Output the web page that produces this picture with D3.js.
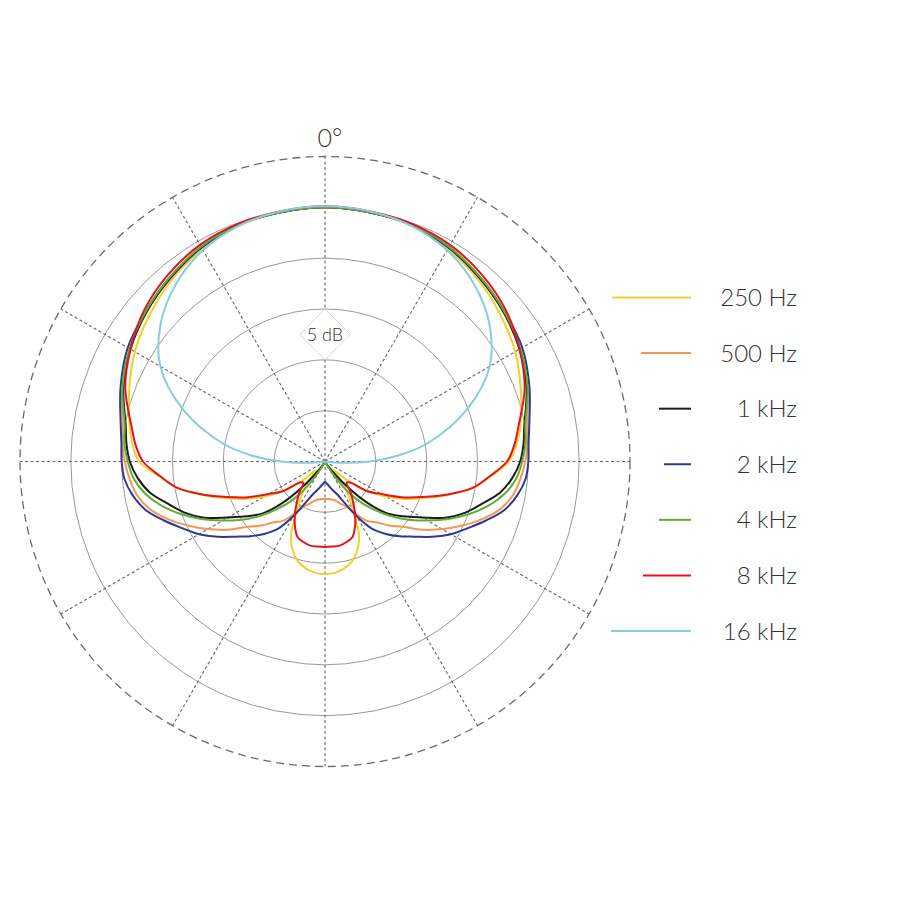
<!DOCTYPE html>
<html>
<head>
<meta charset="utf-8">
<script src="https://cdn.jsdelivr.net/npm/d3@7"></script>
<style>
  body { margin: 0; background: #fff; }
  text { font-family: Lato, "Open Sans", sans-serif; fill: #333; }
</style>
</head>
<body>
<svg id="polar" width="900" height="900"></svg>
<script>
// angle of each reading, degrees clockwise from 0° (on-axis)
const angles = [0, 10, 20, 30, 40, 50, 60, 70, 80, 85,
    90, 95, 100, 105, 110, 115, 120, 125, 130, 135, 140, 145, 150, 155, 160, 165, 170, 175, 180,
    185, 190, 195, 200, 205, 210, 215, 220, 225, 230, 235, 240, 245, 250, 255, 260, 265, 270,
    275, 280, 290, 300, 310, 320, 330, 340, 350];

// level in dB (0 dB = on-axis)
const hz250 = [0, -0.1, -0.3, -0.9, -1.6, -2.5, -3.4, -4.5, -5.5, -6.1,
    -6.9, -8.6, -10.2, -12.4, -14.5, -16.3, -18.1, -19.9, -21.9, -23.8, -22.6, -21.0, -19.6, -17.1, -15.7, -14.8, -14.3, -14.0, -13.9,
    -14.0, -14.3, -14.8, -15.7, -17.1, -19.6, -21.0, -22.6, -23.8, -21.9, -19.9, -18.1, -16.3, -14.5, -12.4, -10.2, -8.6, -6.7,
    -6.0, -5.5, -4.5, -3.4, -2.5, -1.6, -0.9, -0.3, -0.1];
const hz500 = [0, -0.1, -0.2, -0.7, -1.4, -2.1, -2.9, -3.8, -4.8, -5.0,
    -5.3, -5.7, -6.2, -7.1, -8.5, -10.1, -11.7, -13.3, -15.0, -16.1, -17.2, -17.9, -19.2, -20.1, -20.6, -21.0, -21.2, -21.3, -21.3,
    -21.3, -21.2, -21.0, -20.6, -20.1, -19.2, -17.9, -17.2, -16.1, -15.0, -13.3, -11.7, -10.1, -8.5, -7.1, -6.2, -5.7, -5.3,
    -5.0, -4.8, -3.8, -2.9, -2.1, -1.4, -0.7, -0.2, -0.1];
const khz1 = [0, -0.1, -0.2, -0.7, -1.4, -2.1, -2.9, -3.9, -5.1, -5.4,
    -5.8, -6.5, -7.5, -9.0, -10.3, -11.9, -14.0, -15.6, -17.1, -19.6, -22.5, -24.2, -24.8, -25, -25, -25, -25, -25, -25,
    -25, -25, -25, -25, -25, -24.8, -24.2, -22.5, -19.6, -17.1, -15.6, -14.0, -11.9, -10.3, -9.0, -7.5, -6.5, -5.8,
    -5.4, -5.1, -3.9, -2.9, -2.1, -1.4, -0.7, -0.2, -0.1];
const khz2 = [0, -0.1, -0.2, -0.7, -1.3, -2.0, -2.6, -3.6, -4.6, -4.9,
    -5.0, -5.2, -5.8, -6.7, -8.1, -9.5, -10.7, -12.1, -13.5, -14.6, -15.7, -16.9, -18.8, -20.6, -21.6, -22.1, -22.5, -22.8, -23.0,
    -22.8, -22.5, -22.1, -21.6, -20.6, -18.8, -16.9, -15.7, -14.6, -13.5, -12.1, -10.7, -9.5, -8.1, -6.7, -5.8, -5.2, -5.0,
    -4.9, -4.6, -3.6, -2.6, -2.0, -1.3, -0.7, -0.2, -0.1];
const khz4 = [0, -0.1, -0.2, -0.6, -1.3, -2.0, -2.8, -3.8, -5.0, -5.2,
    -5.6, -6.1, -7.0, -8.3, -9.9, -11.6, -13.4, -15.0, -16.7, -18.4, -20.1, -22.2, -24.2, -24.8, -25, -25, -25, -25, -25,
    -25, -25, -25, -25, -24.8, -24.2, -22.2, -20.1, -18.4, -16.7, -15.0, -13.4, -11.6, -9.9, -8.3, -7.0, -6.1, -5.6,
    -5.2, -5.0, -3.8, -2.8, -2.0, -1.3, -0.6, -0.2, -0.1];
const khz8 = [0.1, 0, -0.1, -0.4, -1.0, -1.8, -2.9, -4.1, -5.7, -6.3,
    -7.1, -8.7, -10.2, -12.5, -14.8, -16.7, -18.6, -19.9, -21.8, -22.0, -21.1, -20.2, -19.1, -18.0, -17.1, -16.8, -16.6, -16.6, -16.6,
    -16.6, -16.6, -16.8, -17.1, -18.0, -19.1, -20.2, -21.1, -22.0, -21.8, -19.9, -18.6, -16.7, -14.8, -12.5, -10.2, -8.7, -7.1,
    -6.3, -5.7, -4.1, -2.9, -1.8, -1.0, -0.4, -0.1, 0];
const khz16 = [0.1, 0, -0.3, -1.0, -2.2, -3.9, -6.3, -10.2, -14.8, -17.6,
    -20.6, -23.5, -24.7, -25, -25, -25, -25, -25, -25, -25, -25, -25, -25, -25, -25, -25, -25, -25, -25,
    -25, -25, -25, -25, -25, -25, -25, -25, -25, -25, -25, -25, -25, -25, -25, -24.7, -23.5, -20.6,
    -17.6, -14.8, -10.2, -6.3, -3.9, -2.2, -1.0, -0.3, 0];

const seriesNames = ["250 Hz", "500 Hz", "1 kHz", "2 kHz", "4 kHz", "8 kHz", "16 kHz"];
const seriesValues = [hz250, hz500, khz1, khz2, khz4, khz8, khz16];
const seriesColors = ["#f4cf2c", "#f29759", "#1c1c1c", "#2d3a8f", "#5fae34", "#e2151c", "#86cde3"];
const legendLineLengths = [79, 50, 32, 27, 32, 48, 80];

const ringLevels = [-20, -15, -10, -5, 0];
const outerLevel = 5;
const spokeAngles = d3.range(0, 360, 30);

const svg = d3.select("#polar");
const cx = 325, cy = 461.5;

const r = d3.scaleLinear()
    .domain([-25, outerLevel])
    .range([0, 305])
    .clamp(true);

const rad = d => d * Math.PI / 180;

const g = svg.append("g").attr("transform", `translate(${cx},${cy})`);

// solid rings
g.append("g")
    .selectAll("circle")
    .data(ringLevels)
    .join("circle")
    .attr("r", d => r(d))
    .attr("fill", "none")
    .attr("stroke", "#999")
    .attr("stroke-width", 1);

// dashed outer ring
g.append("circle")
    .attr("r", r(outerLevel))
    .attr("fill", "none")
    .attr("stroke", "#6a6a6a")
    .attr("stroke-width", 1.3)
    .attr("stroke-dasharray", "8,5");

// spokes
g.append("g")
    .selectAll("line")
    .data(spokeAngles)
    .join("line")
    .attr("x1", 0)
    .attr("y1", 0)
    .attr("x2", d => r(outerLevel) * Math.sin(rad(d)))
    .attr("y2", d => -r(outerLevel) * Math.cos(rad(d)))
    .attr("stroke", "#666")
    .attr("stroke-width", 1.1)
    .attr("stroke-dasharray", "3,2.5");

// "5 dB" marker between rings
const labelR = r(-12.5), half = (r(-10) - r(-15)) / 2;
const lab = g.append("g").attr("transform", `translate(0,${-labelR})`);
lab.append("path")
    .attr("d", `M0,${-half}L${half},0L0,${half}L${-half},0Z`)
    .attr("fill", "#fff")
    .attr("stroke", "#d8d8d8")
    .attr("stroke-width", 1);
lab.append("text")
    .attr("text-anchor", "middle")
    .attr("dy", "0.36em")
    .attr("font-size", 18)
    .attr("font-weight", 300)
    .text("5 dB");

// 0° label
g.append("text")
    .attr("x", 5)
    .attr("y", -r(outerLevel) - 10)
    .attr("text-anchor", "middle")
    .attr("font-size", 25)
    .attr("font-weight", 300)
    .text("0°");

// response curves
const line = d3.lineRadial()
    .angle(d => rad(d[0]))
    .radius(d => r(d[1]))
    .curve(d3.curveCatmullRomClosed.alpha(0.5));

g.append("g")
    .selectAll("path")
    .data(seriesValues)
    .join("path")
    .attr("d", vals => line(angles.map((a, i) => [a, vals[i]])))
    .attr("fill", "none")
    .attr("stroke", (d, i) => seriesColors[i])
    .attr("stroke-width", 2)
    .attr("stroke-linejoin", "round");

// legend
const ly = d3.scalePoint().domain(seriesNames).range([297.5, 631]);
const leg = svg.append("g")
    .selectAll("g")
    .data(seriesNames)
    .join("g")
    .attr("transform", d => `translate(0,${ly(d)})`);

leg.append("line")
    .attr("x1", (d, i) => 691 - legendLineLengths[i])
    .attr("x2", 691)
    .attr("stroke", (d, i) => seriesColors[i])
    .attr("stroke-width", 2);

leg.append("text")
    .attr("x", 797)
    .attr("dy", "0.36em")
    .attr("text-anchor", "end")
    .attr("font-size", 24)
    .attr("font-weight", 300)
    .text(d => d);
</script>
</body>
</html>
